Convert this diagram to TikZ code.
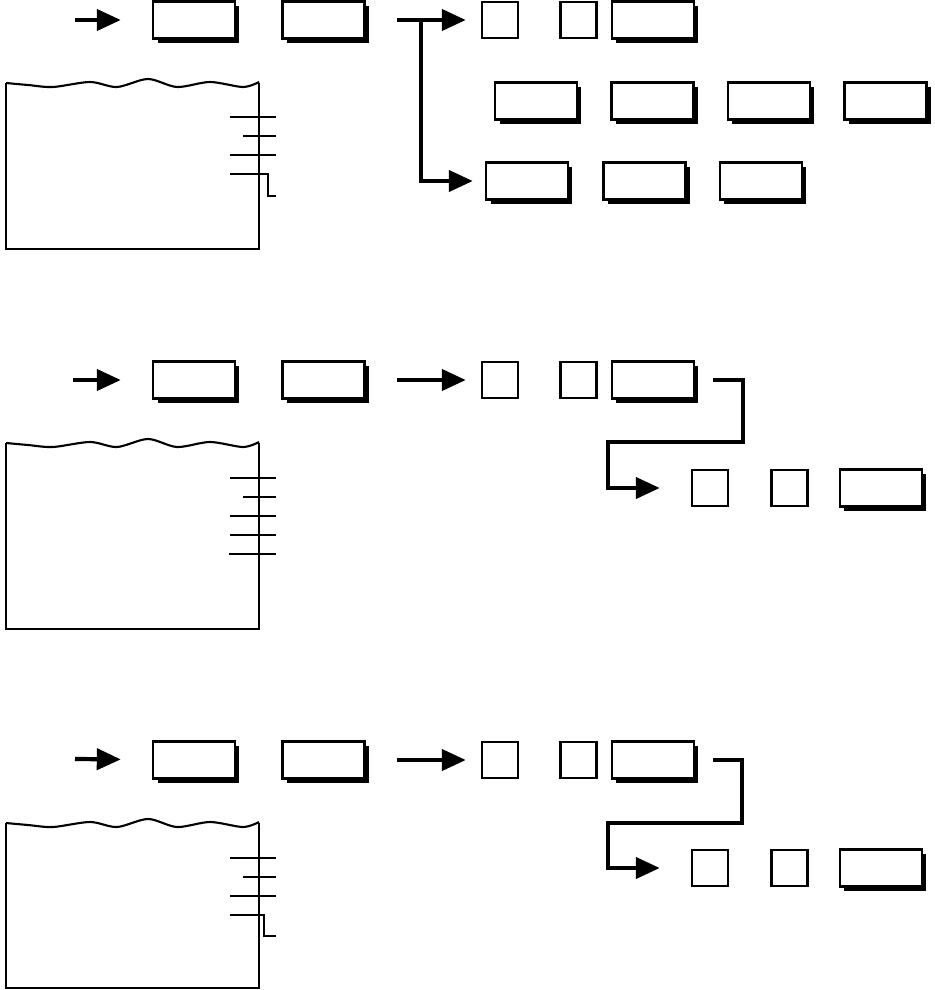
\documentclass[tikz,border=0pt]{standalone}
\usetikzlibrary{arrows.meta, positioning, shadows}
\tikzset{
    keybox/.style={draw, line width=1.4pt, fill=white, minimum width=1.64cm, minimum height=0.74cm, inner sep=0pt, drop shadow={shadow xshift=0.09cm, shadow yshift=-0.09cm, fill=black, opacity=1}},
    sqbox/.style={draw, line width=1.4pt, fill=white, minimum size=0.72cm, inner sep=0pt},
    arrow/.style={-{Triangle[length=0.48cm, width=0.42cm]}, line width=2.4pt},
    paper/.style={line width=1.6pt},
    printline/.style={line width=0.8pt}
}
\begin{document}
\begin{tikzpicture}[x=0.02cm, y=-0.02cm]
    \useasboundingbox (0,0) rectangle (935,990);
    % first sequence
    \node [keybox] (k1a) at (194,20) {};
    \node [keybox, right=0.9cm of k1a] (k1b) {};
    \node [sqbox] (s1a) at (500,20) {};
    \node [sqbox, right=0.8cm of s1a] (s1b) {};
    \node [keybox, right=0.26cm of s1b] (k1c) {};
    \node [keybox] (k1d) at (536,101) {};
    \node [keybox, right=0.64cm of k1d] (k1e) {};
    \node [keybox, right=0.64cm of k1e] (k1f) {};
    \node [keybox, right=0.64cm of k1f] (k1g) {};
    \node [keybox] (k1h) at (527,181) {};
    \node [keybox, right=0.66cm of k1h] (k1i) {};
    \node [keybox, right=0.64cm of k1i] (k1j) {};
    \coordinate (a1) at (75,20);
    \coordinate (j1) at (421,20);
    \draw [arrow, shorten >=0.62cm] (a1) -- (k1a);
    \draw [arrow, shorten <=0.62cm, shorten >=0.3cm] (k1b) -- (s1a);
    \draw [arrow, shorten >=0.24cm] (j1) |- (k1h);
    % second sequence
    \node [keybox] (k2a) at (194,380) {};
    \node [keybox, right=0.9cm of k2a] (k2b) {};
    \node [sqbox] (s2a) at (500,380) {};
    \node [sqbox, right=0.8cm of s2a] (s2b) {};
    \node [keybox, right=0.26cm of s2b] (k2c) {};
    \node [sqbox] (s2d) at (710,488) {};
    \node [sqbox, right=0.82cm of s2d] (s2e) {};
    \node [keybox, right=0.6cm of s2e] (k2d) {};
    \coordinate (a2) at (73,380);
    \coordinate (e2) at (743,442);
    \coordinate (f2) at (608,442);
    \draw [arrow, shorten >=0.62cm] (a2) -- (k2a);
    \draw [arrow, shorten <=0.62cm, shorten >=0.3cm] (k2b) -- (s2a);
    \draw [arrow, shorten <=0.36cm, shorten >=0.62cm] (k2c) -| (e2) -- (f2) |- (s2d);
    % third sequence
    \node [keybox] (k3a) at (194,760) {};
    \node [keybox, right=0.9cm of k3a] (k3b) {};
    \node [sqbox] (s3a) at (500,760) {};
    \node [sqbox, right=0.8cm of s3a] (s3b) {};
    \node [keybox, right=0.26cm of s3b] (k3c) {};
    \node [sqbox] (s3d) at (710,868) {};
    \node [sqbox, right=0.82cm of s3d] (s3e) {};
    \node [keybox, right=0.6cm of s3e] (k3d) {};
    \coordinate (a3) at (75,759);
    \coordinate (e3) at (742,823);
    \coordinate (f3) at (608,823);
    \draw [arrow, shorten >=0.62cm] (a3) -- (k3a);
    \draw [arrow, shorten <=0.62cm, shorten >=0.3cm] (k3b) -- (s3a);
    \draw [arrow, shorten <=0.36cm, shorten >=0.62cm] (k3c) -| (e3) -- (f3) |- (s3d);
    % receipts
    \begin{scope}
        \draw [paper] (259,83) -- (259,249) -- (6,249) -- (6,83);
        \draw [line width=1.2pt] plot [smooth] coordinates {(6,83) (28,85) (53,87) (90,82) (117,87) (148,79) (177,87) (210,82) (243,87) (259,82)};
        \draw [printline] (230,117) -- (276,117);
        \draw [printline] (243,136) -- (276,136);
        \draw [printline] (230,155) -- (276,155);
        \draw [printline] (230,174) -- (268,174) -- (268,196) -- (276,196);
    \end{scope}
    \begin{scope}[shift={(0,360)}]
        \draw [paper] (259,83) -- (259,269) -- (6,269) -- (6,83);
        \draw [line width=1.2pt] plot [smooth] coordinates {(6,83) (28,85) (53,87) (90,82) (117,87) (148,79) (177,87) (210,82) (243,87) (259,82)};
        \draw [printline] (230,118) -- (276,118);
        \draw [printline] (243,137) -- (276,137);
        \draw [printline] (230,156) -- (276,156);
        \draw [printline] (230,175) -- (276,175);
        \draw [printline] (229,194) -- (276,194);
    \end{scope}
    \begin{scope}[shift={(0,740)}]
        \draw [paper] (259,83) -- (259,248) -- (6,248) -- (6,83);
        \draw [line width=1.2pt] plot [smooth] coordinates {(6,83) (28,85) (53,87) (90,82) (117,87) (148,79) (177,87) (210,82) (243,87) (259,82)};
        \draw [printline] (230,118) -- (276,118);
        \draw [printline] (243,137) -- (276,137);
        \draw [printline] (230,156) -- (276,156);
        \draw [printline] (230,175) -- (264,175) -- (264,196) -- (276,196);
    \end{scope}
\end{tikzpicture}
\end{document}
